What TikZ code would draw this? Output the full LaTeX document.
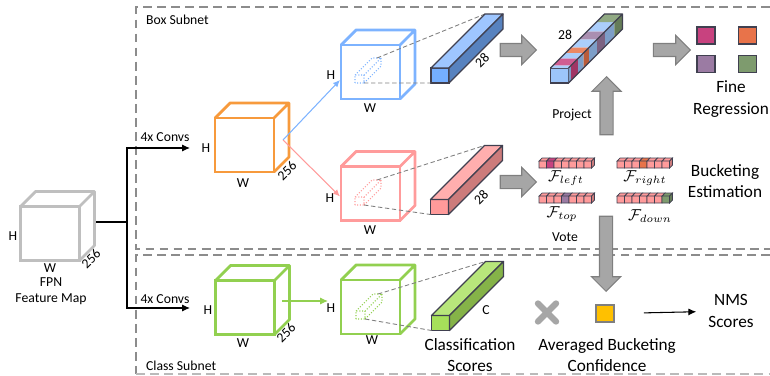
\documentclass[tikz,border=0pt]{standalone}
\usepackage{fontspec}
\setmainfont{Carlito}
\usetikzlibrary{calc,arrows.meta,shapes.arrows,shapes.misc}

\definecolor{fpngray}{HTML}{BFBFBF}
\definecolor{convorange}{HTML}{F79A3C}
\definecolor{boxblue}{HTML}{7DB3FF}
\definecolor{boxpink}{HTML}{FF9B9B}
\definecolor{clsgreen}{HTML}{92D050}
\definecolor{barblue}{HTML}{74AEFF}
\definecolor{barpink}{HTML}{FF9A9A}
\definecolor{bargreen}{HTML}{A6E05A}
\definecolor{projblue}{HTML}{9CC5FA}
\definecolor{sepgray}{HTML}{8C8C8C}
\definecolor{blockgray}{HTML}{A6A6A6}
\definecolor{blockedge}{HTML}{7F7F7F}
\definecolor{edgedark}{HTML}{404050}
\definecolor{bktmag}{HTML}{C8427F}
\definecolor{bktorange}{HTML}{E8734A}
\definecolor{bktpurple}{HTML}{9B7BA3}
\definecolor{bktgreen}{HTML}{7E9B6E}
\definecolor{confyellow}{HTML}{FFC000}

% back and side edges of a feature cube
\newcommand{\cubedepth}[2]{%
  \draw[#2, line width=1.6pt, line join=round]
    (#1.north west) -- ++(15,-15) -- ($(#1.north east)+(15,-15)$)
    -- ($(#1.south east)+(15,-15)$) -- (#1.south east)
    (#1.north east) -- ++(15,-15);}

% top and side faces of a long bar
\newcommand{\bardepth}[3]{%
  \filldraw[fill=#2, draw=edgedark, line width=0.7pt, line join=round]
    (#1.north west) -- ++(54,-54) -- ($(#1.north east)+(54,-54)$) -- (#1.north east) -- cycle;
  \filldraw[fill=#3, draw=edgedark, line width=0.7pt, line join=round]
    (#1.north east) -- ++(54,-54) -- ($(#1.south east)+(54,-54)$) -- (#1.south east) -- cycle;}

% dotted window inside a cube
\newcommand{\cubewindow}[4]{%
  \draw[#3, densely dotted, line width=0.6pt]
    (#1,#2) rectangle ++(9,-8)
    (#1,#2) ++(0,-8) -- ++(17,-17) -- ++(9,0) -- ++(-17,17)
    (#1,#2) ++(9,-8) ++(17,-17) -- ++(0,8) -- ++(-17,17);
  \coordinate (#4-back) at (#1+22,#2-25);
  \coordinate (#4-front) at (#1+9,#2);}

% one bucketing vector, seven cells, cell #3 in colour #4
\newcommand{\bucketvec}[4]{%
  \foreach \i in {1,...,7}{%
    \ifnum\i=#3\relax\def\cellcol{#4}\else\def\cellcol{boxpink}\fi
    \filldraw[fill=\cellcol, draw=edgedark, line width=0.4pt]
      (#1+\i*7.5-7.5,#2) rectangle ++(7.5,-7)
      (#1+\i*7.5-7.5,#2-7) -- ++(3,-3) -- ++(7.5,0) -- ++(-3,3) -- cycle;
  }
  \ifnum#3=7\relax\def\sidecol{#4}\else\def\sidecol{boxpink}\fi
  \filldraw[fill=\sidecol!80!black, draw=edgedark, line width=0.4pt]
    (#1+52.5,#2) -- ++(3,-3) -- ++(0,-7) -- ++(-3,3) -- cycle;}

\begin{document}
\begin{tikzpicture}[x=0.02cm, y=-0.02cm]
\tikzstyle{cube}=[rectangle, minimum width=1.18cm, minimum height=1.08cm, line width=1.6pt, inner sep=0pt, outer sep=0pt]
\tikzstyle{bar}=[rectangle, draw=edgedark, line width=0.7pt, minimum width=0.36cm, minimum height=0.3cm, inner sep=0pt, outer sep=0pt]
\tikzstyle{swatch}=[rectangle, draw=edgedark, line width=0.9pt, minimum width=0.36cm, minimum height=0.34cm, inner sep=0pt]
\tikzstyle{lbl}=[font=\fontsize{7.8}{9}\selectfont, inner sep=1pt]
\tikzstyle{flbl}=[font=\fontsize{9}{10}\selectfont, inner sep=0pt]
\tikzstyle{big}=[font=\fontsize{9.8}{12.3}\selectfont, align=center, inner sep=1pt]
\tikzstyle{subnetline}=[sepgray, line width=1.3pt, dash pattern=on 5pt off 3pt]
\tikzstyle{zoomline}=[gray, line width=0.5pt, dash pattern=on 2.5pt off 1.5pt]
\tikzstyle{flow}=[-{Latex[length=4.5pt,width=4pt]}, line width=0.6pt]
\tikzstyle{fatarrow}=[single arrow, fill=blockgray, draw=blockedge, line width=0.6pt, text height=0.24cm, text depth=0pt, text width=0pt, single arrow head extend=0.16cm, inner sep=0pt, outer sep=0pt]
\useasboundingbox (0,0) rectangle (770,375);

% subnet frames
\draw[subnetline] (770,7) -- (136,7) -- (136,249) -- (770,249);
\draw[subnetline] (770,255) -- (136,255) -- (136,374);
\draw[subnetline, sepgray!60] (136,374) -- (770,374);
\node[lbl, anchor=west] (boxtitle) at (144,20) {Box Subnet};
\node[lbl, anchor=west] (clstitle) at (144,366) {Class Subnet};

% FPN input
\node[cube, draw=fpngray] (fpn) at (50,233.5) {};
\cubedepth{fpn}{fpngray}
\node[lbl] (fpnH) at (13,236) {H};
\node[lbl] (fpnW) at (50,268) {W};
\node[lbl, rotate=45] (fpnC) at (91,259) {256};
\node[lbl, align=center] (fpnname) at (51,291) {FPN\\Feature Map};

\coordinate (fpnout) at (96,222);
\coordinate (split) at (127,222);
\coordinate (boxin) at (190,148);
\coordinate (clsin) at (190,308);
\draw[line width=0.6pt] (fpnout) -- (split);
\draw[flow] (split) |- (boxin);
\draw[flow] (split) |- (clsin);
\node[lbl] (boxconvs) at (165,137) {4x Convs};
\node[lbl] (clsconvs) at (165,299) {4x Convs};

% box subnet
\node[cube, draw=convorange] (conv) at (244.5,145) {};
\cubedepth{conv}{convorange}
\node[lbl] (convH) at (206,148) {H};
\node[lbl] (convW) at (243,183) {W};
\node[lbl, rotate=45] (convC) at (287,171) {256};

\node[cube, draw=boxblue] (boxcube) at (370.5,72) {};
\cubedepth{boxcube}{boxblue}
\node[lbl] (boxH) at (331,75) {H};
\node[lbl] (boxW) at (370,108) {W};
\cubewindow{355}{83}{boxblue}{boxwin}

\node[cube, draw=boxpink] (bktcube) at (370.5,193.5) {};
\cubedepth{bktcube}{boxpink}
\node[lbl] (bktH) at (330,198) {H};
\node[lbl] (bktW) at (370,230) {W};
\cubewindow{355}{205}{boxpink}{bktwin}

\coordinate (fork) at (283,140);
\draw[-{Latex[length=4pt,width=3.5pt]}, boxblue, line width=0.6pt] (fork) -- ($(boxcube.west)+(-1,8)$);
\draw[-{Latex[length=4pt,width=3.5pt]}, boxpink, line width=0.6pt] (fork) -- ($(bktcube.west)+(-1,3)$);

\node[bar, fill=barblue] (boxbar) at (440,75.5) {};
\draw[zoomline] (boxwin-back) -- ($(boxbar.north west)+(54,-54)$);
\draw[zoomline] (boxwin-front) -- (boxbar.south west);
\bardepth{boxbar}{barblue!70!white}{barblue!75!black}
\node[lbl, rotate=45] (boxlen) at (482,60) {28};

\node[bar, fill=barpink] (bktbar) at (439.5,207) {};
\draw[zoomline] (bktwin-back) -- ($(bktbar.north west)+(54,-54)$);
\draw[zoomline] (bktwin-front) -- (bktbar.south west);
\bardepth{bktbar}{barpink!80!white}{barpink!80!black}
\node[lbl, rotate=45] (bktlen) at (481,197) {28};

\node[fatarrow, minimum height=0.72cm] (toproj) at (515,50) {};
\node[fatarrow, minimum height=0.72cm] (tobkt) at (515,182) {};
\node[fatarrow, minimum height=0.74cm] (tofine) at (668.5,50) {};
\node[fatarrow, minimum height=1.16cm, rotate=90] (project) at (606.5,109) {};
\node[fatarrow, minimum height=1.5cm, rotate=-90] (vote) at (606,250.5) {};
\node[lbl] (projectlbl) at (572,115) {Project};
\node[lbl] (votelbl) at (565,237) {Vote};

% projected bar with bucket colours
\node[bar, fill=projblue] (projbar) at (559.5,75.5) {};
\foreach \a/\b/\c in {0/0.05/projblue, 0.05/0.18/bktmag, 0.18/0.28/projblue, 0.28/0.38/bktorange, 0.38/0.53/projblue, 0.53/0.68/bktpurple, 0.68/0.85/projblue, 0.85/1/bktgreen}{
  \fill[\c!85!white] ($(projbar.north west)+\a*(54,-54)$) -- ($(projbar.north east)+\a*(54,-54)$)
    -- ($(projbar.north east)+\b*(54,-54)$) -- ($(projbar.north west)+\b*(54,-54)$) -- cycle;
  \fill[\c!80!black] ($(projbar.north east)+\a*(54,-54)$) -- ($(projbar.south east)+\a*(54,-54)$)
    -- ($(projbar.south east)+\b*(54,-54)$) -- ($(projbar.north east)+\b*(54,-54)$) -- cycle;
}
\draw[edgedark, line width=0.7pt, line join=round]
  (projbar.north west) -- ++(54,-54) -- ($(projbar.north east)+(54,-54)$) -- (projbar.north east)
  ($(projbar.north east)+(54,-54)$) -- ($(projbar.south east)+(54,-54)$) -- (projbar.south east);
\node[lbl] (projlen) at (565,35) {28};

\node[swatch, fill=bktmag] (fineleft) at (706,35.5) {};
\node[swatch, fill=bktorange] (fineright) at (747.5,35.5) {};
\node[swatch, fill=bktpurple] (finetop) at (706,64) {};
\node[swatch, fill=bktgreen] (finedown) at (747.5,64) {};
\node[big] (fine) at (731,99) {Fine\\Regression};

% bucketing estimation
\bucketvec{539}{168}{2}{bktmag}
\bucketvec{617}{168}{4}{bktorange}
\bucketvec{539}{203}{4}{bktpurple}
\bucketvec{617}{203}{7}{bktgreen}
\node[flbl] (fleft) at (566,178) {$\mathcal{F}_{left}$};
\node[flbl] (fright) at (645,178) {$\mathcal{F}_{right}$};
\node[flbl] (ftop) at (562,214) {$\mathcal{F}_{top}$};
\node[flbl] (fdown) at (650,216) {$\mathcal{F}_{down}$};
\node[big] (bucketing) at (725,181) {Bucketing\\Estimation};

% class subnet
\node[cube, draw=clsgreen] (clscube) at (245,307.5) {};
\cubedepth{clscube}{clsgreen}
\node[lbl] (clsH) at (208,310) {H};
\node[lbl] (clsW) at (243,343) {W};
\node[lbl, rotate=45] (clsC) at (286,333) {256};

\node[cube, draw=clsgreen] (scorecube) at (370.5,307) {};
\cubedepth{scorecube}{clsgreen}
\node[lbl] (scoreH) at (331,308) {H};
\node[lbl] (scoreW) at (372,340) {W};
\cubewindow{356}{319}{clsgreen}{scorewin}
\draw[flow, clsgreen] ($(clscube.east)+(8,-6.5)$) -- ($(scorecube.west)+(-13,-6)$);

\node[bar, fill=bargreen] (clsbar) at (440.5,323) {};
\draw[zoomline] (scorewin-back) -- ($(clsbar.north west)+(54,-54)$);
\draw[zoomline] (scorewin-front) -- (clsbar.south west);
\bardepth{clsbar}{bargreen!80!white}{bargreen!80!black}
\node[lbl] (clslen) at (486,310) {C};
\node[big] (clsscores) at (470,355) {Classification\\Scores};

\node[cross out, draw=blockgray, line width=3.6pt, line cap=round, minimum size=0.22cm] (times) at (547,312.5) {};
\node[swatch, fill=confyellow, draw=blockedge] (conf) at (605,313.5) {};
\node[big] (confname) at (607,355) {Averaged Bucketing\\Confidence};
\node[big] (nms) at (731,311) {NMS\\Scores};
\draw[flow, shorten <=0.58cm, shorten >=0.2cm] (conf.east) -- (nms);
\end{tikzpicture}
\end{document}
